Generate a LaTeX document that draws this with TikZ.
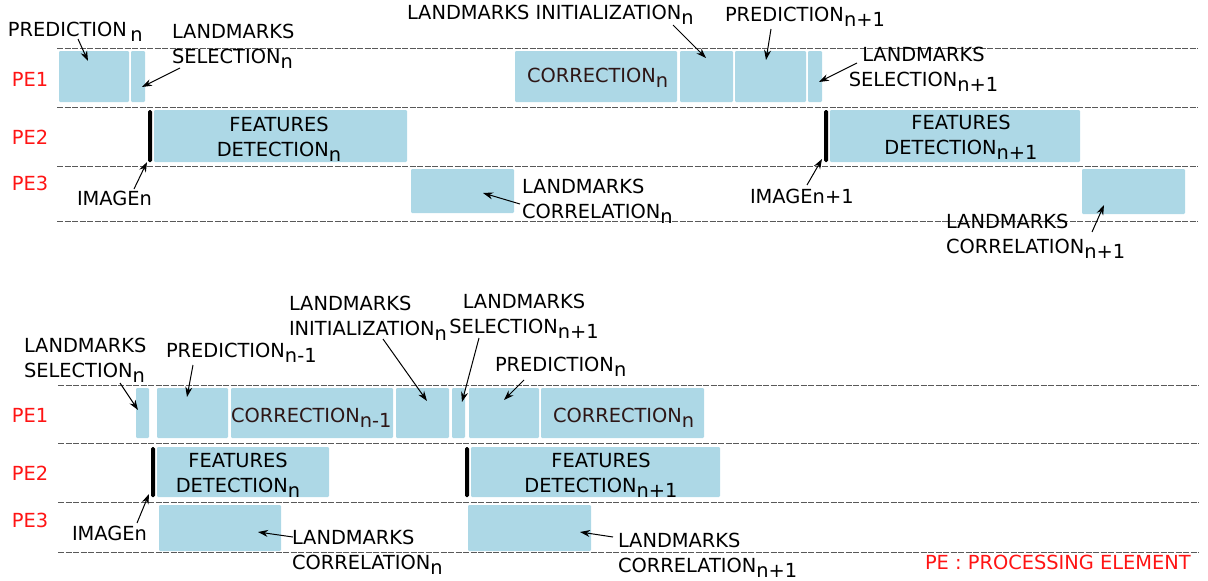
\documentclass[tikz,border=0pt]{standalone}
\usepackage{fontspec}
\setmainfont{DejaVu Sans}
\usetikzlibrary{fit,arrows.meta}
\newcommand\dn[1]{\raisebox{-5pt}{#1}}
\definecolor{boxblue}{RGB}{173,216,230}
\definecolor{pered}{RGB}{255,20,20}
\definecolor{corrtext}{RGB}{45,22,22}
\begin{document}
\begin{tikzpicture}[x=1pt,y=-1pt,
  box/.style={fill=boxblue, draw=none, rounded corners=1.2pt, inner sep=0pt, outer sep=0pt},
  bar/.style={fill=black, draw=none, rounded corners=1.5pt, inner sep=0pt, outer sep=0pt},
  lane/.style={draw=black!65, line width=1pt, dash pattern=on 6pt off 1.5pt},
  lbl/.style={inner sep=0pt, outer sep=0pt, font=\fontsize{19.4}{24.5}\selectfont, text=black},
  corrlbl/.style={lbl, text=corrtext},
  pe/.style={lbl, text=pered},
  arr/.style={-{Stealth[length=10pt,width=7pt]}, line width=1pt}]
\useasboundingbox (0,0) rectangle (1208,581);

% ---------------- TOP DIAGRAM ----------------
\foreach \yy in {48,107,166,221} \draw[lane] (57,\yy) -- (1198,\yy);
\node[pe, anchor=base west] (tpe1) at (12,86) {PE1};
\node[pe, anchor=base west] (tpe2) at (12,144) {PE2};
\node[pe, anchor=base west] (tpe3) at (12,190) {PE3};

% PE1 boxes
\node[box, fit={(59,51)(129,102)}] (tpred) {};
\node[box, fit={(131,51)(145,102)}] (tsel) {};
\node[box, fit={(515,51)(677,102)}] (tcorr) {};
\node[box, fit={(680,51)(733,102)}] (tinit) {};
\node[box, fit={(735,51)(806,102)}] (tpred2) {};
\node[box, fit={(808,51)(822,102)}] (tsel2) {};
% PE2
\node[bar, fit={(148,110)(152,162)}] (timg) {};
\node[box, fit={(154,110)(407,162)}] (tfeat) {};
\node[bar, fit={(824,110)(828,162)}] (timg2) {};
\node[box, fit={(830,110)(1080,162)}] (tfeat2) {};
% PE3
\node[box, fit={(411,169)(514,213)}] (tlc) {};
\node[box, fit={(1082,169)(1185,214)}] (tlc2) {};

% labels (multi-line nodes: base = last line)
\node[lbl, anchor=base west] (Ltpred) at (8,36) {PREDICTION\hspace{3.5pt}\dn{n}};
\node[lbl, anchor=base west, align=left] (Ltsel) at (172,63) {LANDMARKS\\SELECTION\dn{n}};
\node[lbl, anchor=base west] (Ltimg) at (77,205) {IMAGEn};
\node[lbl, anchor=base west] (Ltinit) at (407,19) {LANDMARKS INITIALIZATION\dn{n}};
\node[lbl, anchor=base west] (Ltpred2) at (725,21) {PREDICTION\dn{n+1}};
\node[lbl, anchor=base, align=center] (Ltsel2) at (923.5,86) {LANDMARKS\\SELECTION\dn{n+1}};
\node[lbl, anchor=base west, align=left] (Ltlc) at (522,218) {LANDMARKS\\CORRELATION\dn{n}};
\node[corrlbl, anchor=base west] (Ltcorr) at (527,82) {CORRECTION\dn{n}};
\node[lbl, anchor=base, align=center] (Ltfeat) at (279,156) {FEATURES\\DETECTION\dn{n}};
\node[lbl, anchor=base, align=center] (Ltfeat2) at (961,154) {FEATURES\\DETECTION\dn{n+1}};
\node[lbl, anchor=base west] (Ltimg2) at (750,203) {IMAGEn+1};
\node[lbl, anchor=base west, align=left] (Ltlc2) at (946,253) {LANDMARKS\\CORRELATION\dn{n+1}};

% arrow ends
\coordinate (a1s) at (78,39);   \coordinate (a1e) at (88,61);
\coordinate (a2s) at (180,68);  \coordinate (a2e) at (142,87);
\coordinate (a3s) at (134,189); \coordinate (a3e) at (147,162);
\coordinate (a4s) at (673,25);  \coordinate (a4e) at (706,58);
\coordinate (a5s) at (771,29);  \coordinate (a5e) at (766,60);
\coordinate (a6s) at (857,63);  \coordinate (a6e) at (819,82);
\coordinate (a7s) at (807,185); \coordinate (a7e) at (822,159);
\coordinate (a8s) at (520,204); \coordinate (a8e) at (483,193);
\coordinate (a9s) at (1092,232);\coordinate (a9e) at (1104,205);
\foreach \i in {1,...,9} \draw[arr] (a\i s) -- (a\i e);

% ---------------- BOTTOM DIAGRAM ----------------
\foreach \yy in {385,443,502,552} \draw[lane] (58,\yy) -- (1199,\yy);
\node[pe, anchor=base west] (bpe1) at (12,422) {PE1};
\node[pe, anchor=base west] (bpe2) at (12,480) {PE2};
\node[pe, anchor=base west] (bpe3) at (12,527) {PE3};

% PE1
\node[box, fit={(136,388)(149,438)}] (bsel) {};
\node[box, fit={(157,388)(228,438)}] (bpred) {};
\node[box, fit={(231,388)(393,438)}] (bcorr) {};
\node[box, fit={(396,388)(449,438)}] (binit) {};
\node[box, fit={(452,388)(465,438)}] (bsel2) {};
\node[box, fit={(469,388)(539,438)}] (bpred2) {};
\node[box, fit={(541,388)(704,438)}] (bcorr2) {};
% PE2
\node[bar, fit={(151,447)(155,497)}] (bimg) {};
\node[box, fit={(157,447)(329,497)}] (bfeat) {};
\node[bar, fit={(465,447)(469,497)}] (bimg2) {};
\node[box, fit={(471,447)(720,497)}] (bfeat2) {};
% PE3
\node[box, fit={(159,505)(281,551)}] (blc) {};
\node[box, fit={(468,505)(591,551)}] (blc2) {};

% labels
\node[lbl, anchor=base west, align=left] (Lbsel) at (24,377) {LANDMARKS\\SELECTION\dn{n}};
\node[lbl, anchor=base west] (Lbpred) at (166,357) {PREDICTION\dn{n-1}};
\node[lbl, anchor=base west, align=left] (Lbinit) at (289,335) {LANDMARKS\\INITIALIZATION\dn{n}};
\node[lbl, anchor=base, align=center] (Lbsel2) at (524,333) {LANDMARKS\\SELECTION\dn{n+1}};
\node[lbl, anchor=base west] (Lbpred2) at (495,371) {PREDICTION\dn{n}};
\node[corrlbl, anchor=base west] (Lbcorr) at (231,422) {CORRECTION\dn{n-1}};
\node[corrlbl, anchor=base west] (Lbcorr2) at (553,422) {CORRECTION\dn{n}};
\node[lbl, anchor=base, align=center] (Lbfeat) at (238,492) {FEATURES\\DETECTION\dn{n}};
\node[lbl, anchor=base, align=center] (Lbfeat2) at (601,492) {FEATURES\\DETECTION\dn{n+1}};
\node[lbl, anchor=base west] (Lbimg) at (72,540) {IMAGEn};
\node[lbl, anchor=base west, align=left] (Lblc) at (292,569) {LANDMARKS\\CORRELATION\dn{n}};
\node[lbl, anchor=base west, align=left] (Lblc2) at (618,572) {LANDMARKS\\CORRELATION\dn{n+1}};
\node[pe, anchor=base west] (legend) at (925,569) {PE : PROCESSING ELEMENT};

\coordinate (c1s) at (120,383); \coordinate (c1e) at (138,410);
\coordinate (c2s) at (193,365); \coordinate (c2e) at (187,397);
\coordinate (c3s) at (383,339); \coordinate (c3e) at (427,401);
\coordinate (c4s) at (479,338); \coordinate (c4e) at (462,402);
\coordinate (c5s) at (524,380); \coordinate (c5e) at (504,400);
\coordinate (c6s) at (137,523); \coordinate (c6e) at (149,494);
\coordinate (c7s) at (293,537); \coordinate (c7e) at (258,532);
\coordinate (c8s) at (613,537); \coordinate (c8e) at (580,532);
\foreach \i in {1,...,8} \draw[arr] (c\i s) -- (c\i e);
\end{tikzpicture}
\end{document}
